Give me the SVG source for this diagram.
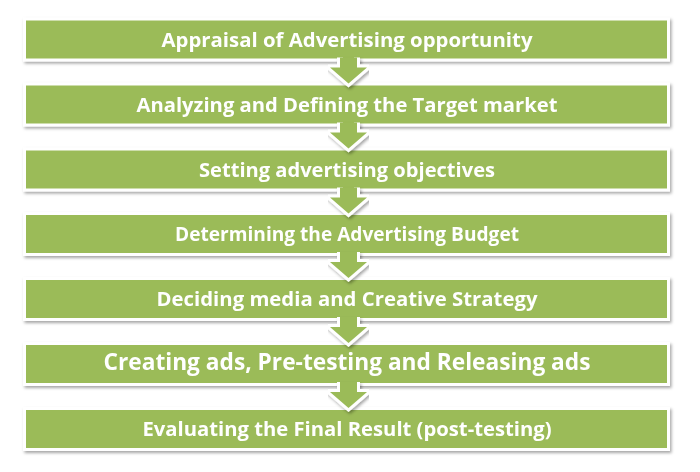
<svg xmlns="http://www.w3.org/2000/svg" width="700" height="472" viewBox="0 0 700 472">
  <defs>
    <filter id="shadow" x="-5%" y="-20%" width="110%" height="160%">
      <feDropShadow dx="1.5" dy="2" stdDeviation="1.4" flood-color="#000" flood-opacity="0.35"/>
    </filter>
  </defs>
  <style>
    .box { fill: #9BBB59; stroke: #FFFFFF; stroke-width: 6; paint-order: stroke; stroke-linejoin: miter; }
    .arrow { fill: #9BBB59; stroke: #FFFFFF; stroke-width: 6; paint-order: stroke; stroke-linejoin: miter; }
    .lbl { font-family: "Open Sans", "Noto Sans", "Liberation Sans", sans-serif; font-weight: bold; font-size: 19px; fill: #FFFFFF; text-anchor: middle; }
    .big { font-size: 23px; }
  </style>
  <rect width="700" height="472" fill="#FFFFFF"/>

  <g id="step1" filter="url(#shadow)">
    <rect class="box" x="26" y="20.5" width="641" height="38"/>
    <text class="lbl" x="347" y="46.5" textLength="371" lengthAdjust="spacingAndGlyphs">Appraisal of Advertising opportunity</text>
  </g>
  <g id="step2" filter="url(#shadow)">
    <rect class="box" x="26" y="85.5" width="641" height="38"/>
    <text class="lbl" x="347" y="111.5" textLength="421" lengthAdjust="spacingAndGlyphs">Analyzing and Defining the Target market</text>
  </g>
  <g id="step3" filter="url(#shadow)">
    <rect class="box" x="26" y="150.5" width="641" height="38"/>
    <text class="lbl" x="347" y="176.5" textLength="296" lengthAdjust="spacingAndGlyphs">Setting advertising objectives</text>
  </g>
  <g id="step4" filter="url(#shadow)">
    <rect class="box" x="26" y="215" width="641" height="38"/>
    <text class="lbl" x="347" y="241" textLength="344" lengthAdjust="spacingAndGlyphs">Determining the Advertising Budget</text>
  </g>
  <g id="step5" filter="url(#shadow)">
    <rect class="box" x="26" y="280" width="641" height="38"/>
    <text class="lbl" x="347" y="306" textLength="381" lengthAdjust="spacingAndGlyphs">Deciding media and Creative Strategy</text>
  </g>
  <g id="step6" filter="url(#shadow)">
    <rect class="box" x="26" y="345" width="641" height="38"/>
    <text class="lbl big" x="347" y="370" textLength="487" lengthAdjust="spacingAndGlyphs">Creating ads, Pre-testing and Releasing ads</text>
  </g>
  <g id="step7" filter="url(#shadow)">
    <rect class="box" x="26" y="410" width="641" height="38"/>
    <text class="lbl" x="347" y="436" textLength="409" lengthAdjust="spacingAndGlyphs">Evaluating the Final Result (post-testing)</text>
  </g>

  <g id="connectors" filter="url(#shadow)">
    <path class="arrow" d="M340,57.5 V67.5 H330 L348.5,83.5 L367,67.5 H357 V57.5"/>
    <path class="arrow" d="M340,122.5 V132.5 H330 L348.5,148.5 L367,132.5 H357 V122.5"/>
    <path class="arrow" d="M340,187.5 V197.5 H330 L348.5,213.5 L367,197.5 H357 V187.5"/>
    <path class="arrow" d="M340,252 V262 H330 L348.5,278 L367,262 H357 V252"/>
    <path class="arrow" d="M340,317 V327 H330 L348.5,343 L367,327 H357 V317"/>
    <path class="arrow" d="M340,382 V392 H330 L348.5,408 L367,392 H357 V382"/>
  </g>
</svg>
